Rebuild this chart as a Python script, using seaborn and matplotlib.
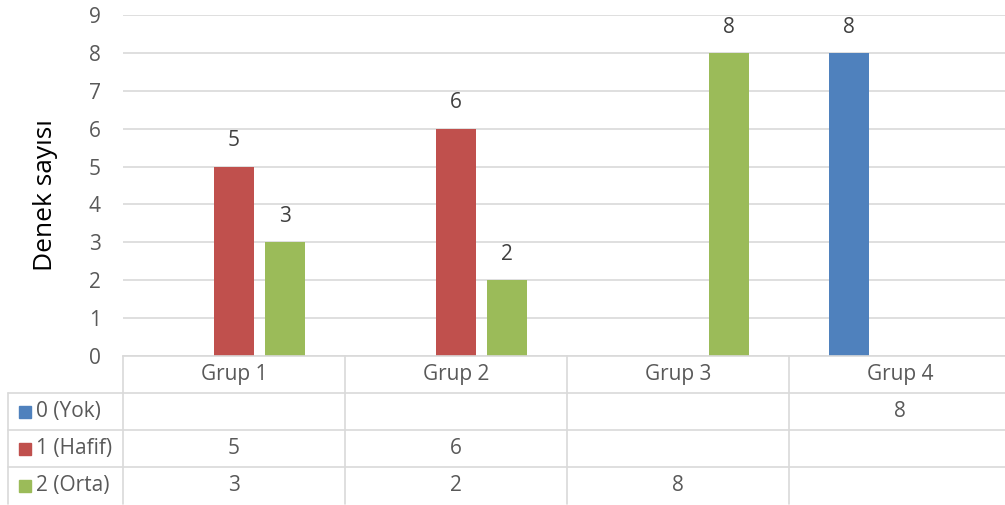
import matplotlib
matplotlib.use('Agg')
import pandas as pd
import seaborn as sns
import matplotlib.pyplot as plt

# data
groups = ['Grup 1', 'Grup 2', 'Grup 3', 'Grup 4']
levels = ['0 (Yok)', '1 (Hafif)', '2 (Orta)']
yok = [None, None, None, 8]
hafif = [5, 6, None, None]
orta = [3, 2, 8, None]
colors = ['#4f81bd', '#c0504d', '#9bbb59']

series = [yok, hafif, orta]
rows = []
for lev, vals in zip(levels, series):
    for g, v in zip(groups, vals):
        if v is not None:
            rows.append({'grup': g, 'derece': lev, 'n': v})
df = pd.DataFrame(rows)

sns.set_style('white')
plt.rcParams['font.family'] = ['Open Sans', 'DejaVu Sans']
txt = '#595959'
line = '#d9d9d9'

fig = plt.figure(figsize=(10.05, 5.05), dpi=100)
ax = fig.add_axes([123/1005, 1 - 356/505, 888/1005, 341/505])
sns.barplot(data=df, x='grup', y='n', hue='derece', order=groups, hue_order=levels,
            palette=colors, saturation=1, width=0.69, gap=0.2, legend=False,
            linewidth=0, ax=ax)

for c in ax.containers:
    ax.bar_label(c, fmt='%g', padding=11, fontsize=15, color='#404040')

ax.set_xlim(-0.5, len(groups) - 0.5)
ax.set_ylim(0, 9)
ax.set_yticks(range(10))
ax.grid(axis='y', color=line, lw=1.2)
ax.set_axisbelow(True)
sns.despine(ax=ax, left=True)
ax.spines['bottom'].set_color(line)
ax.spines['bottom'].set_linewidth(1.2)
ax.tick_params(axis='y', length=0, pad=16, labelsize=15, labelcolor=txt)
ax.tick_params(axis='x', length=0, labelbottom=False)
ax.set_xlabel('')
ax.set_ylabel('Denek sayısı', fontsize=19, color='black')
ax.yaxis.set_label_coords(-0.073, 0.472)

# data table under the axis
rh = 37 / (341 / 9)
xl = -0.5 - 115 / 222
n = len(groups)
kw = dict(color=line, lw=1.2, clip_on=False)
for r in range(1, 4):
    ax.plot([xl, n - 0.5], [-r * rh, -r * rh], **kw)
for b in range(n):
    ax.plot([b - 0.5, b - 0.5], [0, -4 * rh], **kw)
ax.plot([xl, xl], [-rh, -4 * rh], **kw)

for i, g in enumerate(groups):
    ax.text(i, -rh / 2, g, ha='center', va='center', fontsize=15, color=txt)
for r, (lev, vals, col) in enumerate(zip(levels, series, colors)):
    yc = -(r + 1.5) * rh
    ax.plot([-0.5 - 98 / 222], [yc], marker='s', ms=8, color=col, clip_on=False)
    ax.text(-0.5 - 87 / 222, yc, lev, ha='left', va='center', fontsize=15, color=txt)
    for i, v in enumerate(vals):
        if v is not None:
            ax.text(i, yc, f'{v:g}', ha='center', va='center', fontsize=15, color=txt)

fig.savefig('out.png', dpi=100)
